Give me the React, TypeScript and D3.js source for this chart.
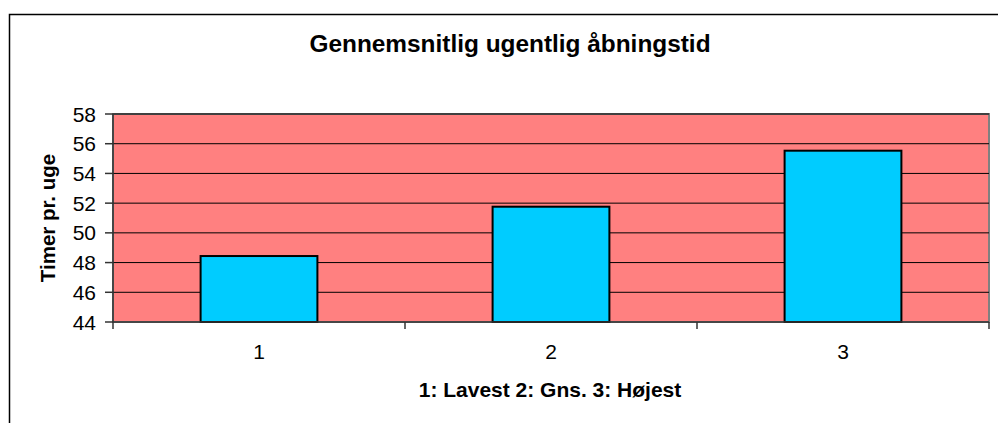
import React from "react";
import * as d3 from "d3";

const categories = ["1", "2", "3"];
const values = [48.44, 51.76, 55.53];
const yTicks = [44, 46, 48, 50, 52, 54, 56, 58];
const title = "Gennemsnitlig ugentlig åbningstid";
const yTitle = "Timer pr. uge";
const xTitle = "1: Lavest 2: Gns. 3: Højest";

export default function App() {
  const W = 998, H = 423;
  const left = 113, right = 989, top = 114, bottom = 322;
  const x = d3.scaleBand<string>().domain(categories).range([left, right]).paddingInner(0.6).paddingOuter(0.3);
  const xTicksScale = d3.scaleBand<string>().domain(categories).range([left, right]);
  const y = d3.scaleLinear().domain([44, 58]).range([bottom, top]);
  const font = "Liberation Sans, Arial, sans-serif";
  return (
    <svg width={W} height={H} style={{ position: "absolute", left: 0, top: 0 }}>
      <rect x={0} y={0} width={W} height={H} fill="#fff" />
      <rect x={9.5} y={14.5} width={1100} height={600} fill="#fff" stroke="#000" strokeWidth={1.5} />
      <text x={510} y={52} textAnchor="middle" fontFamily={font} fontWeight="bold" fontSize={24.4}>{title}</text>
      <rect x={left} y={top} width={right - left} height={bottom - top} fill="#FF8080" stroke="#808080" strokeWidth={2} />
      {yTicks.slice(1).map((t) => (
        <line key={t} x1={left} x2={right} y1={y(t)} y2={y(t)} stroke="#000" strokeWidth={1} />
      ))}
      {categories.map((c, i) => (
        <rect key={c} x={x(c)} y={y(values[i])} width={x.bandwidth()} height={bottom - y(values[i])}
          fill="#00CCFF" stroke="#000" strokeWidth={2} />
      ))}
      <line x1={left} x2={left} y1={top} y2={bottom} stroke="#333" strokeWidth={1.5} />
      <line x1={left} x2={right} y1={bottom} y2={bottom} stroke="#333" strokeWidth={1.5} />
      {yTicks.map((t) => (
        <g key={t}>
          <line x1={105} x2={left} y1={y(t)} y2={y(t)} stroke="#333" strokeWidth={1.5} />
          <text x={96} y={y(t)} dy="0.36em" textAnchor="end" fontFamily={font} fontSize={21}>{t}</text>
        </g>
      ))}
      {[...categories.map((c) => xTicksScale(c) as number), right].map((v, i) => (
        <line key={i} x1={v} x2={v} y1={bottom} y2={bottom + 7} stroke="#333" strokeWidth={1.5} />
      ))}
      {categories.map((c) => (
        <text key={c} x={(xTicksScale(c) as number) + xTicksScale.bandwidth() / 2} y={359} textAnchor="middle" fontFamily={font} fontSize={21}>{c}</text>
      ))}
      <text x={550} y={397} textAnchor="middle" fontFamily={font} fontWeight="bold" fontSize={21}>{xTitle}</text>
      <text transform={`translate(55,218) rotate(-90)`} textAnchor="middle" fontFamily={font} fontWeight="bold" fontSize={20.5}>{yTitle}</text>
    </svg>
  );
}
